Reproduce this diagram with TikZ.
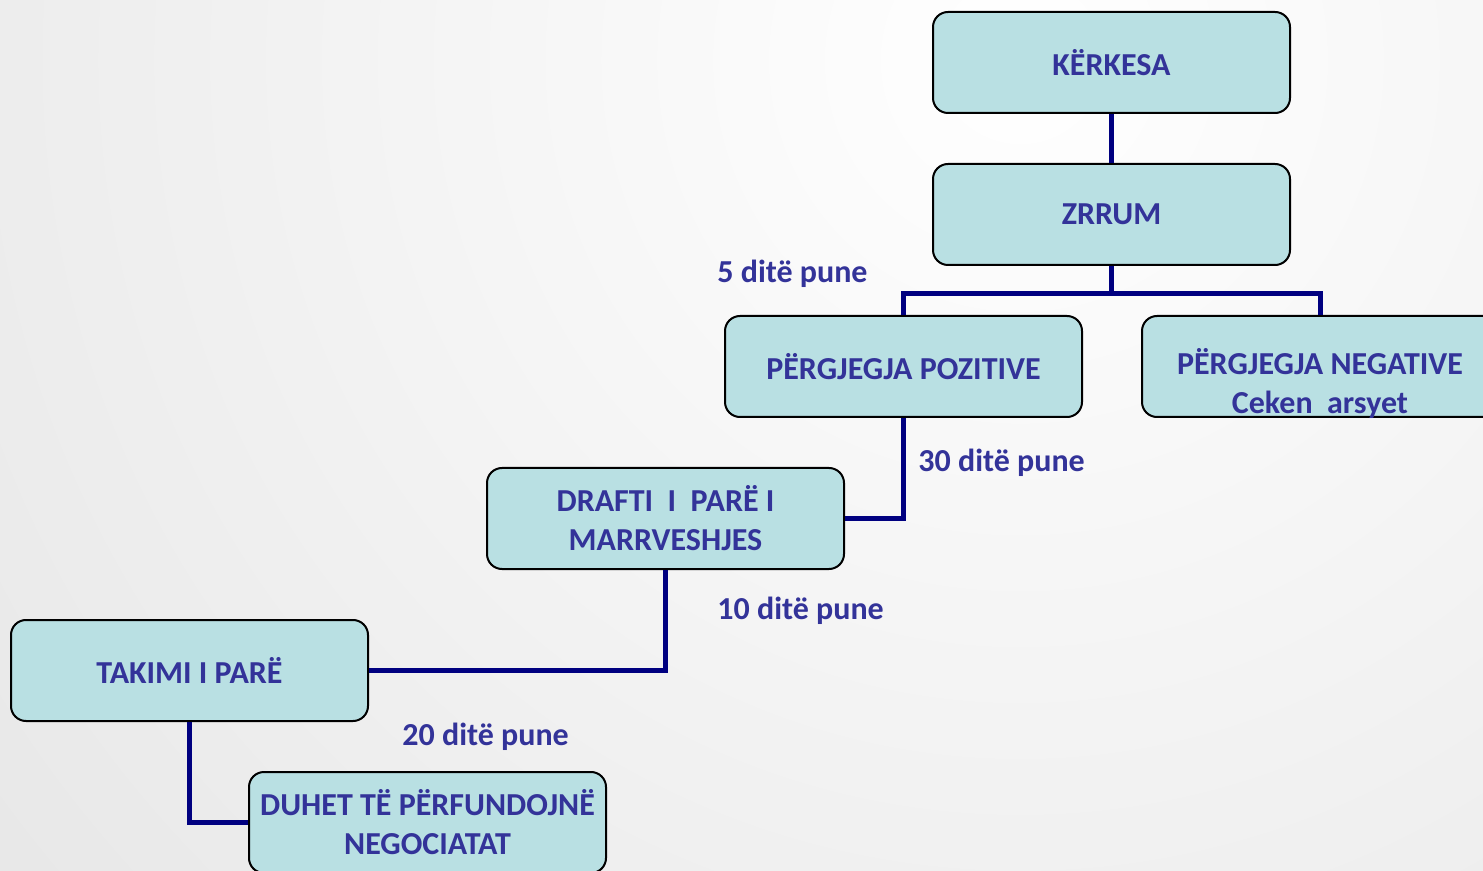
\documentclass[tikz,border=0pt]{standalone}
\usepackage{fontspec}
\setmainfont{Carlito}
\definecolor{boxfill}{HTML}{B9E0E3}
\definecolor{txt}{HTML}{333399}
\definecolor{conn}{HTML}{000080}
\definecolor{bggray}{HTML}{DDDDDD}
\begin{document}
\begin{tikzpicture}[x=0.5pt,y=-0.5pt,
  box/.style={draw=black, line width=1pt, fill=boxfill, rounded corners=7.5pt,
    minimum width=178.5pt, minimum height=50.5pt, inner sep=0pt, align=center,
    text=txt, font=\fontsize{16}{19.5}\selectfont\bfseries},
  boxtext/.style={inner sep=0pt, align=center, text=txt, font=\fontsize{16}{19.5}\selectfont\bfseries},
  conline/.style={draw=conn, line width=2.5pt},
  lbl/.style={text=txt, font=\fontsize{16}{19.5}\selectfont\bfseries, anchor=base west, inner sep=0pt}]
\useasboundingbox (0,0) rectangle (1483,871);
\clip (0,0) rectangle (1483,871);
\fill[bggray] (0,0) rectangle (1483,871);
\shade[inner color=white, outer color=bggray] (1020,60) circle[radius=1900];
\coordinate (kc) at (1111.5,62.5);
\coordinate (zc) at (1111.5,214.5);
\coordinate (pc) at (903.5,366.5);
\coordinate (nc) at (1320.5,366.5);
\coordinate (dc) at (665.5,518.5);
\coordinate (tc) at (189.5,670.5);
\coordinate (uc) at (427.5,822.5);
\node[box] (kerkesa) at (kc) {KËRKESA};
\node[box] (zrrum) at (zc) {ZRRUM};
\node[box] (poz) at (pc) {PËRGJEGJA POZITIVE};
\node[box] (neg) at (nc) {};
\node[boxtext] (negtext) at (1320,383) {PËRGJEGJA NEGATIVE\\Ceken\ \ arsyet};
\node[box] (draft) at (dc) {DRAFTI\ \ I\ \ PARË I\\MARRVESHJES};
\node[box] (takimi) at (tc) {TAKIMI I PARË};
\node[box] (duhet) at (uc) {DUHET TË PËRFUNDOJNË\\NEGOCIATAT};
\draw[conline] (kerkesa.south) -- (zrrum.north);
\draw[conline] (zrrum.south) -- ++(0,30);
\draw[conline] (poz.north) -- ++(0,-21) -| (neg.north);
\draw[conline] (poz.south) |- (draft.east);
\draw[conline] (draft.south) |- (takimi.east);
\draw[conline] (takimi.south) |- (duhet.west);
\node[lbl] (l5) at (717,283) {5 ditë pune};
\node[lbl] (l30) at (918,472) {30 ditë pune};
\node[lbl] (l10) at (717,619) {10 ditë pune};
\node[lbl] (l20) at (402,745) {20 ditë pune};
\end{tikzpicture}
\end{document}
